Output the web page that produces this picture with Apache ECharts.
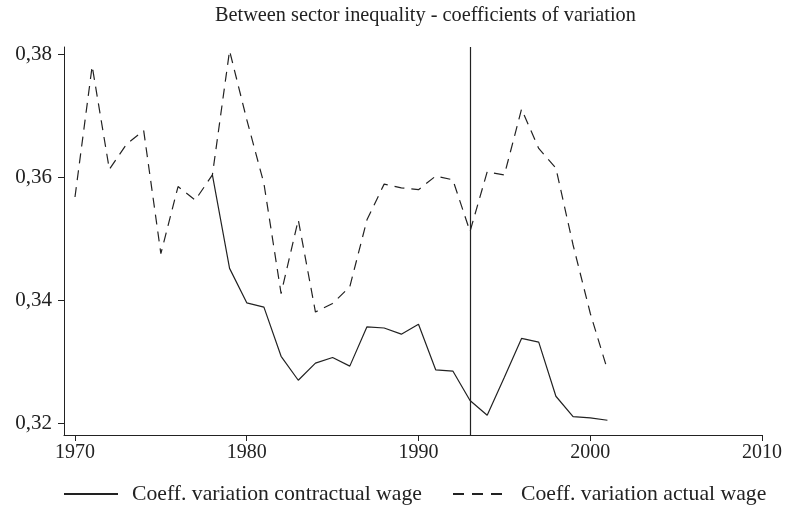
<!DOCTYPE html>
<html>
<head>
<meta charset="utf-8">
<script src="https://cdn.jsdelivr.net/npm/echarts@6/dist/echarts.min.js"></script>
<style>html,body{margin:0;padding:0;background:#fff;}#c{width:787px;height:511px;}</style>
</head>
<body>
<div id="c"></div>
<script>
var years = [1970,1971,1972,1973,1974,1975,1976,1977,1978,1979,1980,1981,1982,1983,1984,1985,1986,1987,1988,1989,1990,1991,1992,1993,1994,1995,1996,1997,1998,1999,2000,2001];
var actualWage = [0.3568,0.3781,0.3613,0.3654,0.3676,0.3476,0.3585,0.3563,0.3604,0.3806,0.3694,0.3590,0.3411,0.3531,0.3381,0.3395,0.3422,0.3531,0.3589,0.3583,0.3580,0.3602,0.3596,0.3512,0.3609,0.3604,0.3711,0.3647,0.3615,0.3490,0.3379,0.3287];
var contractualYears = [1978,1979,1980,1981,1982,1983,1984,1985,1986,1987,1988,1989,1990,1991,1992,1993,1994,1995,1996,1997,1998,1999,2000,2001];
var contractualWage = [0.3604,0.3452,0.3396,0.3389,0.3309,0.3270,0.3298,0.3307,0.3293,0.3357,0.3355,0.3345,0.3361,0.3287,0.3285,0.3237,0.3213,0.3275,0.3338,0.3332,0.3244,0.3211,0.3209,0.3205];
var xTicks = [1970,1980,1990,2000,2010];
var yTicks = [0.32,0.34,0.36,0.38];
var breakYear = 1993;
var titleText = 'Between sector inequality - coefficients of variation';
var nameContractual = 'Coeff. variation contractual wage';
var nameActual = 'Coeff. variation actual wage';

function zip(xs, ys){ return xs.map(function(x,i){ return [x, ys[i]]; }); }

var font = '"Liberation Serif", "DejaVu Serif", serif';
var ink = '#222';
var legendText = {fontFamily: font, fontSize: 21.7, color: ink, padding: [0,0,0,9]};
var chart = echarts.init(document.getElementById('c'), null, {renderer:'canvas'});
chart.setOption({
  animation: false,
  backgroundColor: '#fff',
  title: {
    text: titleText, left: 215, top: 6, padding: 0,
    textStyle: {fontFamily: font, fontSize: 20.3, fontWeight: 'normal', color: ink}
  },
  legend: [
    {data: [nameContractual], left: 63, top: 483, padding: 0, itemWidth: 54, itemHeight: 14,
     itemStyle: {opacity: 0}, textStyle: legendText},
    {data: [nameActual], left: 452, top: 483, padding: 0, itemWidth: 54, itemHeight: 14,
     itemStyle: {opacity: 0}, lineStyle: {type: [11, 8]}, textStyle: legendText}
  ],
  grid: {left: 64, top: 47, width: 698, height: 388, containLabel: false},
  xAxis: {
    type: 'value', min: 1969.36, max: 2010,
    axisLine: {show: true, lineStyle: {color: ink, width: 1}},
    axisTick: {show: true, length: 6, customValues: xTicks, lineStyle: {color: ink}},
    axisLabel: {customValues: xTicks, margin: 8, fontFamily: font, fontSize: 20, color: ink,
      formatter: function(v){ return String(Math.round(v)); }},
    splitLine: {show: false}
  },
  yAxis: {
    type: 'value', min: 0.3181, max: 0.3812,
    axisLine: {show: true, lineStyle: {color: ink, width: 1}},
    axisTick: {show: true, length: 6, customValues: yTicks, lineStyle: {color: ink}},
    axisLabel: {customValues: yTicks, margin: 12, fontFamily: font, fontSize: 21, color: ink,
      formatter: function(v){ return v.toFixed(2).replace('.', ','); }},
    splitLine: {show: false}
  },
  series: [
    {name: nameContractual, type: 'line', data: zip(contractualYears, contractualWage),
     symbol: 'none', lineStyle: {color: ink, width: 1.2, type: 'solid'}, itemStyle: {color: ink},
     markLine: {silent: true, symbol: 'none', label: {show: false},
       lineStyle: {color: ink, width: 1.2, type: 'solid'}, data: [{xAxis: breakYear}]}},
    {name: nameActual, type: 'line', data: zip(years, actualWage),
     symbol: 'none', lineStyle: {color: ink, width: 1.2, type: [10, 7]}, itemStyle: {color: ink}}
  ]
});
</script>
</body>
</html>
